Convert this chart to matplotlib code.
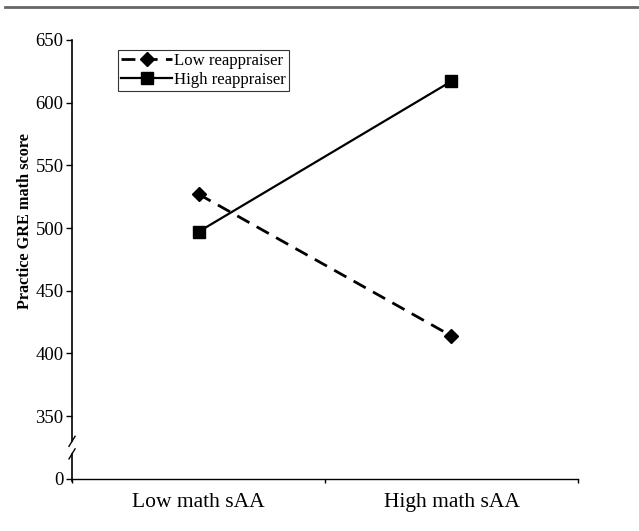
# interaction plot: practice GRE math score by math sAA and reappraisal

import matplotlib
matplotlib.use('Agg')
import matplotlib.pyplot as plt
from matplotlib.lines import Line2D

plt.rcParams['font.family'] = ['Liberation Serif', 'DejaVu Serif']

categories = ['Low math sAA', 'High math sAA']
low_reapp = [527, 414]
high_reapp = [497, 617]
ytick_vals = [300, 350, 400, 450, 500, 550, 600, 650]
ytick_labels = ['0', '350', '400', '450', '500', '550', '600', '650']  # axis is broken below 350

fig = plt.figure(figsize=(6.39, 5.31), dpi=100)
ax = fig.add_axes([0.1127, 0.098, 0.7918, 0.827])

xpos = [0.5, 1.5]
ax.plot(xpos, low_reapp, color='black', linestyle=(0, (5, 3)), linewidth=2,
        marker='D', markersize=7, label='Low reappraiser')
ax.plot(xpos, high_reapp, color='black', linestyle='-', linewidth=1.6,
        marker='s', markersize=9, label='High reappraiser')

ax.set_xlim(0, 2)
ax.set_ylim(300, 650)
ax.set_yticks(ytick_vals)
ax.set_yticklabels(ytick_labels, fontsize=13.5)
ax.set_xticks([0, 1, 2])
ax.set_xticklabels([])
ax.set_xticks(xpos, minor=True)
ax.set_xticklabels(categories, minor=True, fontsize=15.5)
ax.tick_params(axis='x', which='minor', length=0, pad=10)
ax.tick_params(axis='x', which='major', length=3, width=1, direction='out')
ax.tick_params(axis='y', length=4, width=1, direction='out', pad=2)

ax.spines['top'].set_visible(False)
ax.spines['right'].set_visible(False)
ax.spines['left'].set_linewidth(1.2)
ax.spines['bottom'].set_linewidth(1)
# gap in the y axis for the break
ax.spines['left'].set_bounds(330, 650)
ax.plot([0, 0], [298, 320], color='black', linewidth=1.2, clip_on=False,
        transform=ax.transData)
for yb in (320, 330):
    ax.plot([-0.012, 0.012], [yb - 4, yb + 4], color='black', linewidth=1,
            clip_on=False)

ax.set_ylabel('Practice GRE math score', fontsize=11.7, fontweight='bold')
ax.yaxis.set_label_coords(-0.077, 0.588)

leg = ax.legend(loc='upper left', bbox_to_anchor=(0.091, 0.977), fontsize=12.1,
                frameon=True, fancybox=False, edgecolor='black', handlelength=3.0,
                borderpad=0.2, labelspacing=0.15, handletextpad=0.1, borderaxespad=0)
leg.get_frame().set_linewidth(0.8)

# rule across the top of the page
fig.add_artist(Line2D([0.008, 1.0], [0.987, 0.987], color='#666666', linewidth=2))

plt.savefig('out.png', dpi=100)
